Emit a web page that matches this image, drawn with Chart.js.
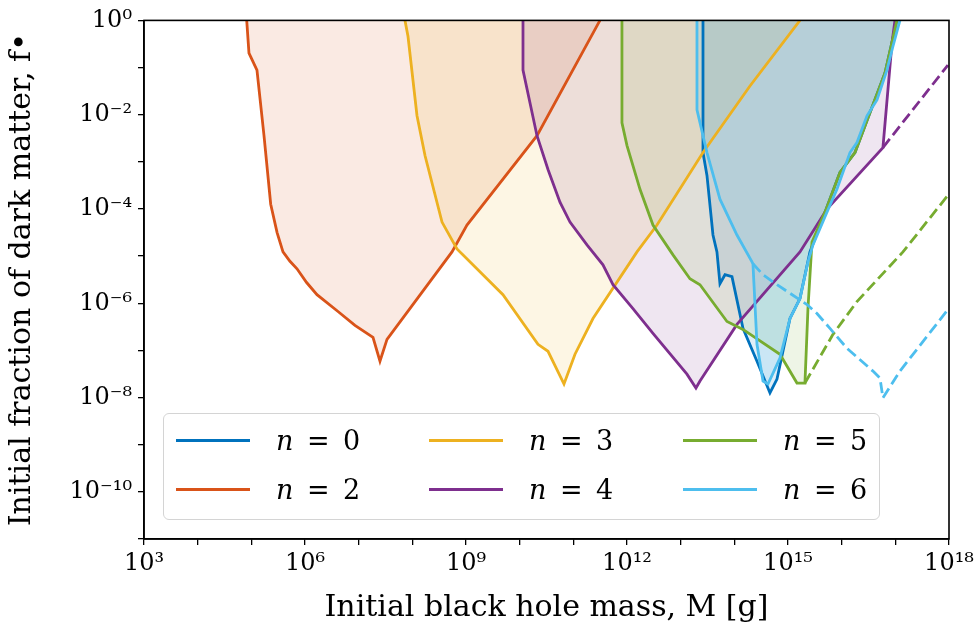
<!DOCTYPE html>
<html>
<head>
<meta charset="utf-8">
<script src="https://cdn.jsdelivr.net/npm/chart.js@4.4.1/dist/chart.umd.min.js"></script>
<style>
  body { margin: 0; background: #fff; }
  #wrap { position: relative; width: 980px; height: 637px; }
  #legend {
    position: absolute; left: 163px; top: 413px; width: 717px; height: 107px;
    border: 1.5px solid #d4d4d4; border-radius: 6px; background: rgba(255,255,255,0.85);
    box-sizing: border-box; font-family: 'DejaVu Serif', serif; font-size: 27px; color: #000;
  }
  .item { position: absolute; display: flex; align-items: center; height: 34px; }
  .sw { width: 74px; height: 0; border-top: 3px solid; margin-right: 26px; }
</style>
</head>
<body>
<div id="wrap">
  <canvas id="chart" width="980" height="637"></canvas>
  <div id="legend"></div>
</div>
<script>
// log10 of mass [g] and log10 of f
const n0M = [13.416,13.416,13.490,13.602,13.676,13.732,13.826,13.956,14.161,14.422,14.664,14.795,15.037,15.223,15.409,15.689,15.968,16.248,16.527,16.807,17.030];
const n0F = [0,-2.803,-3.288,-4.552,-4.910,-5.585,-5.395,-5.437,-6.533,-7.229,-7.903,-7.608,-6.322,-5.901,-4.910,-4.067,-3.224,-2.803,-1.960,-1.117,0];

const n2M = [4.914,4.956,5.105,5.236,5.361,5.480,5.590,5.720,5.851,6.030,6.223,6.615,6.931,7.267,7.397,7.528,8.739,9.018,10.323,11.496];
const n2F = [0,-0.695,-1.054,-2.445,-3.899,-4.500,-4.910,-5.110,-5.269,-5.560,-5.817,-6.175,-6.470,-6.723,-7.229,-6.765,-4.910,-4.341,-2.445,0];

const n3M = [7.863,7.919,8.087,8.236,8.553,8.832,9.689,10.341,10.528,10.826,11.031,11.366,12.186,12.559,13.416,14.291,15.223];
const n3F = [0,-0.337,-2.023,-2.866,-4.278,-4.847,-5.817,-6.870,-7.018,-7.713,-7.081,-6.323,-4.910,-4.341,-2.803,-1.391,0];

const n4M = [10.062,10.062,10.323,10.528,10.751,10.938,11.254,11.552,11.739,12.111,12.484,13.117,13.285,13.360,14.049,15.223,15.726,16.769,16.937,16.993];
const n4F = [0,-1.054,-2.445,-3.161,-3.857,-4.278,-4.763,-5.184,-5.606,-6.112,-6.639,-7.503,-7.798,-7.650,-6.449,-4.910,-4.004,-2.698,-0.485,0];
const n4DashM = [16.769,17.980];
const n4DashF = [-2.698,-0.948];

const n5M = [11.906,11.906,12.000,12.242,12.484,12.857,13.173,13.360,13.863,14.161,14.850,15.167,15.316,15.372,15.447,15.689,15.968,16.248,16.527,16.807,17.030];
const n5F = [0,-2.171,-2.655,-3.583,-4.341,-4.974,-5.479,-5.606,-6.386,-6.554,-7.081,-7.692,-7.692,-6.112,-4.700,-4.067,-3.224,-2.803,-1.960,-1.117,0];
const n5DashM = [15.316,15.838,16.285,17.142,17.980];
const n5DashF = [-7.692,-6.660,-5.964,-4.910,-3.709];

const n6M = [13.304,13.304,13.490,13.732,14.049,14.329,14.347,14.422,14.534,14.627,14.850,15.037,15.223,15.372,15.465,15.726,15.912,16.155,16.285,16.472,16.658,16.844,16.956,17.086];
const n6F = [0,-1.897,-2.803,-3.793,-4.552,-5.121,-5.163,-6.870,-7.650,-7.713,-7.165,-6.322,-5.901,-5.121,-4.763,-4.067,-3.583,-2.803,-2.592,-2.023,-1.686,-1.054,-0.548,0];
const n6DashM = [14.347,14.534,14.795,15.354,15.540,15.782,16.099,16.583,16.714,16.769,17.086,17.980];
const n6DashF = [-5.163,-5.395,-5.606,-6.027,-6.217,-6.533,-6.955,-7.439,-7.587,-8.008,-7.439,-6.133];

const seriesNames = ['n = 0', 'n = 2', 'n = 3', 'n = 4', 'n = 5', 'n = 6'];
const colors = ['#0072bd', '#d95319', '#edb120', '#7e2f8e', '#77ac30', '#4dbeee'];
const fills = ['rgba(0,114,189,0.12)', 'rgba(217,83,25,0.12)', 'rgba(237,177,32,0.12)',
               'rgba(126,47,142,0.12)', 'rgba(119,172,48,0.12)', 'rgba(77,190,238,0.15)'];

const xTickExps = [3,4,5,6,7,8,9,10,11,12,13,14,15,16,17,18];
const xLabelExps = [3,6,9,12,15,18];
const yTickExps = [-11,-10,-9,-8,-7,-6,-5,-4,-3,-2,-1,0];
const yLabelExps = [0,-2,-4,-6,-8,-10];

const sup = {'0':'⁰','1':'¹','2':'²','3':'³','4':'⁴','5':'⁵','6':'⁶','7':'⁷','8':'⁸','9':'⁹','-':'⁻'};
function powLabel(e) {
  return '10' + String(e).split('').map(c => sup[c]).join('');
}

function pts(ms, fs) {
  return ms.map((m, i) => ({x: Math.pow(10, m), y: Math.pow(10, fs[i])}));
}

const solid = [[n0M,n0F],[n2M,n2F],[n3M,n3F],[n4M,n4F],[n5M,n5F],[n6M,n6F]];
const datasets = solid.map((s, i) => ({
  label: seriesNames[i],
  data: pts(s[0], s[1]),
  borderColor: colors[i],
  backgroundColor: fills[i],
  borderWidth: 2.8,
  fill: 'end',
  pointRadius: 0,
  tension: 0,
  order: 10 - i
}));
const dashed = [[3, n4DashM, n4DashF], [4, n5DashM, n5DashF], [5, n6DashM, n6DashF]];
dashed.forEach(d => {
  datasets.push({
    label: seriesNames[d[0]] + ' (dashed)',
    data: pts(d[1], d[2]),
    borderColor: colors[d[0]],
    borderWidth: 2.8,
    borderDash: [11, 5],
    fill: false,
    pointRadius: 0,
    tension: 0,
    order: 10 - d[0]
  });
});

const frame = {
  id: 'frame',
  afterDraw(chart) {
    const {ctx, chartArea: a} = chart;
    ctx.save();
    ctx.strokeStyle = '#000';
    ctx.lineWidth = 1.6;
    ctx.strokeRect(a.left, a.top, a.right - a.left, a.bottom - a.top);
    ctx.restore();
  }
};

const tickFont = {family: "'DejaVu Serif', serif", size: 24};
const titleFont = {family: "'DejaVu Serif', serif", size: 30};

new Chart(document.getElementById('chart'), {
  type: 'line',
  data: {datasets: datasets},
  options: {
    responsive: false,
    animation: false,
    layout: {padding: {top: 17, right: 31, left: 0, bottom: 0}},
    plugins: {
      legend: {display: false},
      tooltip: {enabled: false},
      filler: {drawTime: 'beforeDatasetsDraw'}
    },
    scales: {
      x: {
        type: 'logarithmic',
        min: 1e3, max: 1e18,
        afterBuildTicks: s => { s.ticks = xTickExps.map(e => ({value: Math.pow(10, e)})); },
        afterFit: s => { s.height = 98; },
        ticks: {
          autoSkip: false, maxRotation: 0, color: '#000', font: tickFont, padding: 4,
          callback: v => {
            const e = Math.round(Math.log10(v));
            return xLabelExps.includes(e) ? powLabel(e) : '';
          }
        },
        grid: {drawOnChartArea: false, drawTicks: true, tickLength: 6, color: '#000', lineWidth: 1.3},
        border: {color: '#000', width: 1.6},
        title: {display: true, text: 'Initial black hole mass, M [g]', color: '#000', font: titleFont, padding: {top: 0, bottom: 11}}
      },
      y: {
        type: 'logarithmic',
        min: 1e-11, max: 1,
        afterBuildTicks: s => { s.ticks = yTickExps.map(e => ({value: Math.pow(10, e)})); },
        afterFit: s => { s.width = 144; },
        ticks: {
          autoSkip: false, color: '#000', font: tickFont, padding: 6,
          callback: v => {
            const e = Math.round(Math.log10(v));
            return yLabelExps.includes(e) ? powLabel(e) : '';
          }
        },
        grid: {drawOnChartArea: false, drawTicks: true, tickLength: 6, color: '#000', lineWidth: 1.3},
        border: {color: '#000', width: 1.6},
        title: {display: true, text: 'Initial fraction of dark matter, f•', color: '#000', font: titleFont, padding: {top: 4, bottom: 0}}
      }
    }
  },
  plugins: [frame]
});

// legend in matplotlib layout: two rows, three columns
const colX = [12, 265, 519];
const rowY = [9, 58];
const legend = document.getElementById('legend');
seriesNames.forEach((name, k) => {
  const col = Math.floor(k / 2), row = k % 2;
  const el = document.createElement('div');
  el.className = 'item';
  el.style.left = colX[col] + 'px';
  el.style.top = rowY[row] + 'px';
  const parts = name.split(' = ');
  el.innerHTML = '<span class="sw" style="border-color:' + colors[k] + '"></span>' +
    '<span><i>' + parts[0] + '</i>&ensp;=&ensp;' + parts[1] + '</span>';
  legend.appendChild(el);
});
</script>
</body>
</html>
